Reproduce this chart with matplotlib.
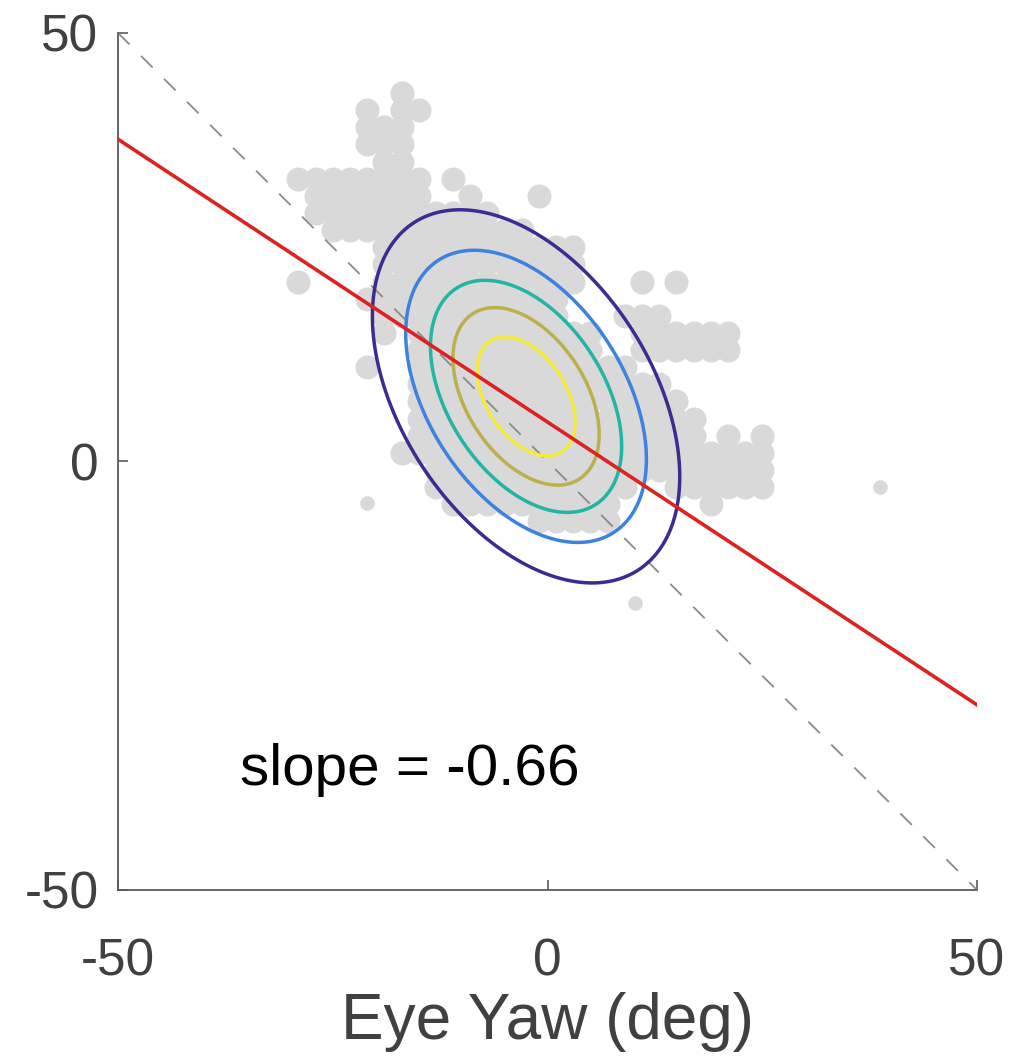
import numpy as np
import matplotlib.pyplot as plt

# grey data cloud on a 2 deg grid ('#' = filled)
cell_x0 = -31   # x of first column
cell_y0 = 43    # y of first row
cell = 2
gray_rows = [
    ".......#",
    ".....#.##",
    ".....###",
    ".....###",
    "......##",
    ".########.#",
    "..#######..#...#",
    "..###########",
    "...############",
    "......############",
    "......############",
    ".#....############...#.#",
    ".....############",
    "......###########...###",
    "......#.###########..######",
    "........###########..######",
    ".....#..#############",
    "........###############",
    "........################",
    "........#################",
    "........#################.#.#",
    ".......######################",
    ".........####################",
    ".........############..######",
    "..........##########.....#",
    "...............#####",
]
lone_x = [-21.0, 38.7, 10.2]
lone_y = [-4.8, -3.0, -16.5]

# gaussian fit shown as contours
gauss_mean = [-2.5, 7.6]
gauss_sd = [9.45, 11.5]
gauss_rho = -0.43
contour_fracs = [1/6, 2/6, 3/6, 4/6, 5/6]
contour_colors = ['#3b2c92', '#3c83e0', '#22b5a6', '#bcb04c', '#f5ea3e']

fit_slope = -0.66
fit_intercept = 4.6

xt = [-50, 0, 50]
yt = [-50, 0, 50]


gx, gy = [], []
for j, row in enumerate(gray_rows):
    for i, ch in enumerate(row):
        if ch == '#':
            gx.append(cell_x0 + i * cell)
            gy.append(cell_y0 - j * cell)

fig = plt.figure(figsize=(10.15, 10.61), dpi=100)
ax = fig.add_axes([0.1163, 0.1612, 0.8463, 0.8077])

ax.scatter(gx, gy, s=300, c='#d9d9d9', marker='o', linewidths=0, zorder=1)
ax.scatter(lone_x, lone_y, s=110, c='#d9d9d9', marker='o', linewidths=0, zorder=1)

# identity line
ax.plot([-50, 50], [50, -50], color='#8a8a8a', lw=1.3, ls=(0, (9, 9)), zorder=2)

xx, yy = np.meshgrid(np.linspace(-50, 50, 500), np.linspace(-50, 50, 500))
dx = (xx - gauss_mean[0]) / gauss_sd[0]
dy = (yy - gauss_mean[1]) / gauss_sd[1]
q = (dx**2 - 2 * gauss_rho * dx * dy + dy**2) / (1 - gauss_rho**2)
zz = np.exp(-0.5 * q)
ax.contour(xx, yy, zz, levels=[f * zz.max() for f in contour_fracs],
           colors=contour_colors, linewidths=2.5, zorder=3)

lx = np.array([-50, 50])
ax.plot(lx, fit_intercept + fit_slope * lx, color='#dc2320', lw=2.6, zorder=4)

ax.text(-35.8, -36, 'slope = -0.66', fontsize=42, family='Liberation Sans',
        ha='left', va='center', color='black')

ax.set_xlim(-50, 50)
ax.set_ylim(-50, 50)
ax.set_xticks(xt)
ax.set_yticks(yt)
ax.set_xticklabels([str(v) for v in xt])
ax.set_yticklabels([str(v) for v in yt])
for s in ['top', 'right']:
    ax.spines[s].set_visible(False)
for s in ['left', 'bottom']:
    ax.spines[s].set_color('#5a5a5a')
    ax.spines[s].set_linewidth(1.3)
ax.tick_params(direction='in', length=7, width=1.2, color='#5a5a5a',
               labelcolor='#404040', labelsize=37)
ax.tick_params(axis='x', pad=34)
ax.tick_params(axis='y', pad=14)
for lab in ax.get_xticklabels() + ax.get_yticklabels():
    lab.set_family('Liberation Sans')
ax.set_xlabel('Eye Yaw (deg)', fontsize=46, family='Liberation Sans',
              color='#404040', labelpad=4)

fig.savefig('out.png', dpi=100)
